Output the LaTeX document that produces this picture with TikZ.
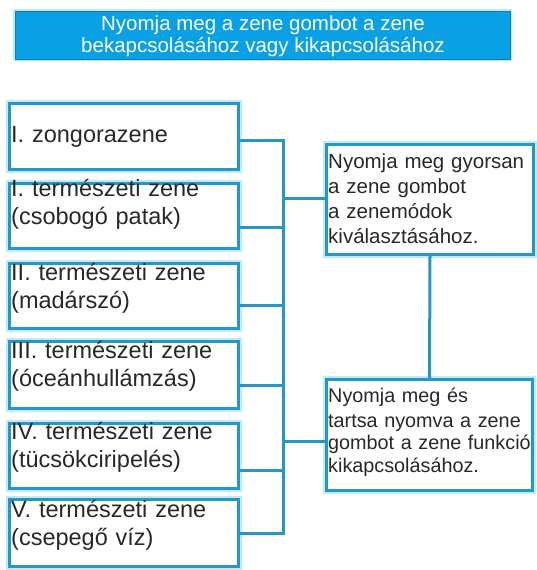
\documentclass[tikz,border=0pt]{standalone}
\usepackage{fontspec}
\setmainfont{Liberation Sans}
\definecolor{boxblue}{RGB}{38,150,198}
\definecolor{glow}{RGB}{190,234,250}
\definecolor{banner}{RGB}{10,160,230}
\definecolor{txt}{RGB}{40,40,40}
\tikzset{
  lbox/.style={draw=boxblue, line width=3pt, fill=white, inner sep=0pt,
    anchor=north west, preaction={draw=glow, line width=6.5pt}},
  ltext/.style={anchor=base west, inner sep=0pt, text=txt, text width=225pt,
    align=left, font=\fontsize{23.5}{28}\selectfont},
  rtext/.style={anchor=base west, inner sep=0pt, text=txt, text width=205pt,
    align=left},
  conn/.style={draw=boxblue, line width=3pt},
}
\begin{document}
\begin{tikzpicture}[x=1pt,y=-1pt]
\useasboundingbox (0,0) rectangle (537,570);
% banner
\node[fill=banner, draw=banner!80!black, line width=0.6pt, minimum width=495pt, minimum height=48pt,
  inner sep=0pt, anchor=north west, preaction={draw=glow, line width=4pt}] (ban) at (15,11) {};
\node[text=white, align=center, inner sep=0pt, font=\fontsize{20.5}{22}\selectfont] (bantext) at (263,36)
  {Nyomja meg a zene gombot a zene\\bekapcsolásához vagy kikapcsolásához};
% left boxes
\node[lbox, minimum width=229pt, minimum height=66pt] (b1) at (8,102) {};
\node[lbox, minimum width=229pt, minimum height=65pt] (b2) at (8,182) {};
\node[lbox, minimum width=229pt, minimum height=65pt] (b3) at (8,262) {};
\node[lbox, minimum width=229pt, minimum height=67pt] (b4) at (8,340) {};
\node[lbox, minimum width=229pt, minimum height=65pt] (b5) at (8,422) {};
\node[lbox, minimum width=229pt, minimum height=67pt] (b6) at (8,498) {};
\node[ltext] (t1) at (11,142) {I. zongorazene};
\node[ltext] (t2) at (11,196) {I. természeti zene\\(csobogó patak)};
\node[ltext] (t3) at (11,280) {II. természeti zene\\(madárszó)};
\node[ltext] (t4) at (11,358) {III. természeti zene\\(óceánhullámzás)};
\node[ltext] (t5) at (11,439) {IV. természeti zene\\(tücsökciripelés)};
\node[ltext] (t6) at (11,517) {V. természeti zene\\(csepegő víz)};
% right boxes
\node[lbox, minimum width=207pt, minimum height=110pt] (r1) at (325,143) {};
\node[lbox, minimum width=206pt, minimum height=111pt] (r2) at (325,378) {};
\node[rtext, font=\fontsize{20.5}{25}\selectfont] (rt1) at (328,168)
  {Nyomja meg gyorsan\\a zene gombot\\a zenemódok\\kiválasztásához.};
\node[rtext, font=\fontsize{19.8}{22.5}\selectfont] (rt2) at (328,402)
  {Nyomja meg és\\[2.5pt]tartsa nyomva a zene\\gombot a zene funkció\\kikapcsolásához.};
% connectors
\coordinate (j1) at (283,140);
\coordinate (j2) at (283,227);
\coordinate (j3) at (283,305);
\coordinate (j4) at (283,385);
\coordinate (j5) at (283,470);
\coordinate (j6) at (283,533);
\coordinate (ja) at (283,198);
\coordinate (jb) at (283,441);
\draw[conn] (b1.east |- j1) -- (j1);
\draw[conn] (b2.east |- j2) -- (j2);
\draw[conn] (b3.east |- j3) -- (j3);
\draw[conn] (b4.east |- j4) -- (j4);
\draw[conn] (b5.east |- j5) -- (j5);
\draw[conn] (b6.east |- j6) -- (j6);
\draw[conn, line cap=rect] (j1) -- (j6);
\draw[conn] (ja) -- (r1.west |- ja);
\draw[conn] (jb) -- (r2.west |- jb);
\draw[conn] (r1.south) -- (r2.north);
\end{tikzpicture}
\end{document}
